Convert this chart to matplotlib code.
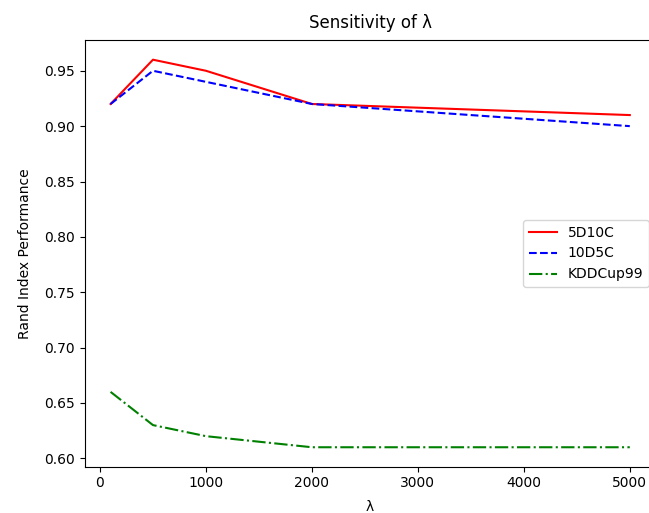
import matplotlib
matplotlib.use("Agg")
import matplotlib.pyplot as plt

lambdas = [100, 500, 1000, 2000, 5000]
d5c10 = [0.92, 0.96, 0.95, 0.92, 0.91]
d10c5 = [0.92, 0.95, 0.94, 0.92, 0.90]
kdd = [0.66, 0.63, 0.62, 0.61, 0.61]

fig = plt.figure(figsize=(6.49, 5.13), dpi=100)
ax = fig.add_axes([0.1304, 0.0904, 0.880, 0.831])

ax.plot(lambdas, d5c10, 'r-', label='5D10C')
ax.plot(lambdas, d10c5, 'b--', label='10D5C')
ax.plot(lambdas, kdd, 'g-.', label='KDDCup99')

ax.set_title('Sensitivity of λ', pad=9)
ax.set_xlabel('λ', labelpad=7)
ax.set_ylabel('Rand Index Performance', labelpad=9)
ax.legend(loc='center right')

fig.savefig('out.png', dpi=100)
